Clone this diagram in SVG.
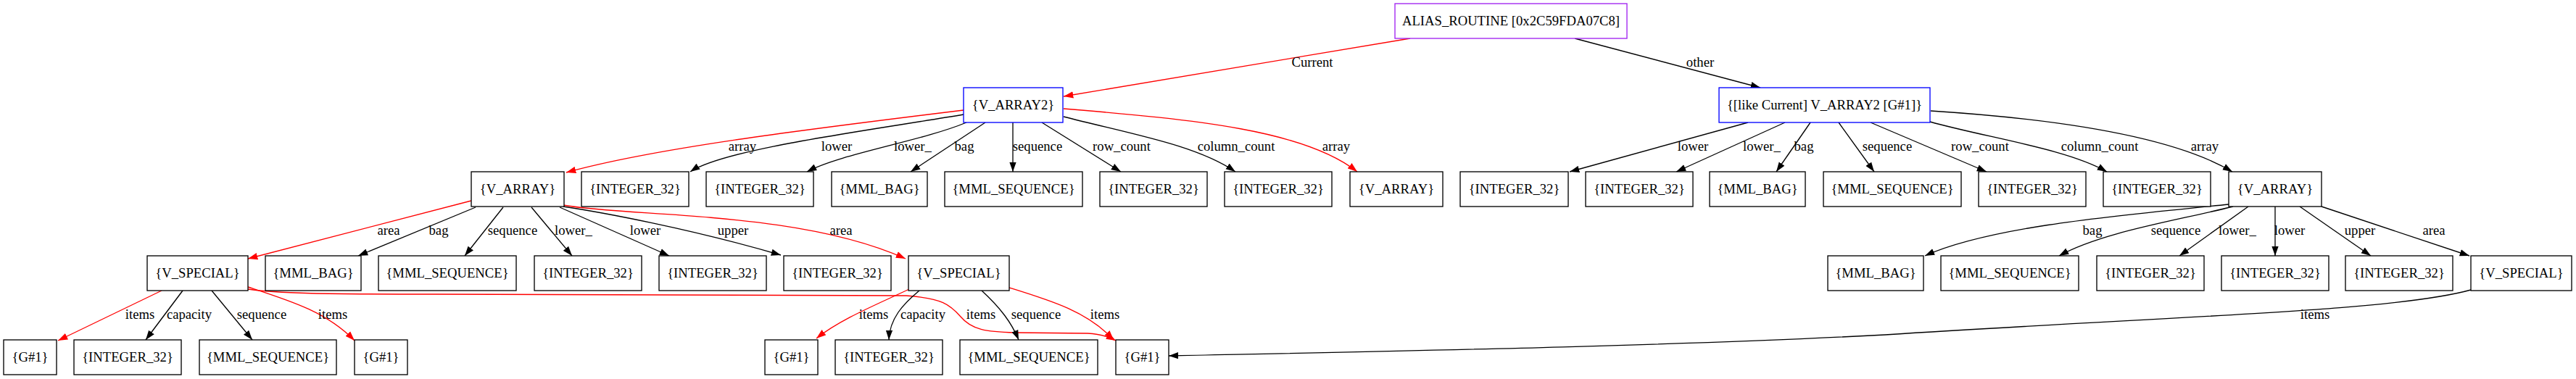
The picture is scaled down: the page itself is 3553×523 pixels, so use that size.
<svg xmlns="http://www.w3.org/2000/svg" width="3553" height="523" viewBox="0 0 3553 523">
<style>
text{font-family:"Liberation Serif","Times New Roman",serif;font-size:18.67px;fill:#000}
.n text{text-anchor:middle}
.n rect{fill:#fff;stroke:#000;stroke-width:1.33}
.n rect.p{stroke:#a020f0}
.n rect.b{stroke:#0000ff}
.e path{fill:none;stroke:#000;stroke-width:1.33;marker-end:url(#ab)}
.e path.r{stroke:#ff0000;marker-end:url(#ar)}
.l text{text-anchor:middle}
</style>
<defs>
<marker id="ab" markerUnits="userSpaceOnUse" viewBox="0 -5 14 10" refX="13.3" refY="0" markerWidth="14" markerHeight="10" orient="auto"><path d="M0,-4.7L13.3,0L0,4.7z" fill="#000"/></marker>
<marker id="ar" markerUnits="userSpaceOnUse" viewBox="0 -5 14 10" refX="13.3" refY="0" markerWidth="14" markerHeight="10" orient="auto"><path d="M0,-4.7L13.3,0L0,4.7z" fill="#ff0000"/></marker>
</defs>
<rect width="3553" height="523" fill="#fff"/>
<g class="e" id="edges">
<path class="r" d="M1945,53L1467,133"/>
<path d="M2172,53L2428,121"/>
<path class="r" d="M1329,152C1100,180 900,205 781,238"/>
<path d="M1329,158C1200,180 1000,205 952,237"/>
<path d="M1333,169C1270,195 1160,212 1113,237"/>
<path d="M1359,169L1256,237"/>
<path d="M1397,169L1397,237"/>
<path d="M1437,169L1546,237"/>
<path d="M1467,161C1560,185 1650,200 1704,237"/>
<path class="r" d="M1467,150C1650,165 1800,180 1872,237"/>
<path d="M2411,169L2165,237"/>
<path d="M2462,169L2312,237"/>
<path d="M2497,169L2450,237"/>
<path d="M2536,169L2585,237"/>
<path d="M2580,169L2740,237"/>
<path d="M2662,168C2740,190 2850,205 2906,237"/>
<path d="M2663,153C2850,165 3000,190 3079,237"/>
<path class="r" d="M650,277L342,357"/>
<path d="M656,286L494,353"/>
<path d="M694,286L641,353"/>
<path d="M733,286L789,353"/>
<path d="M772,286L923,353"/>
<path d="M777,285C830,293 950,315 1077,352"/>
<path class="r" d="M777,283C870,300 1100,290 1249,357"/>
<path d="M3074,282C2950,295 2750,310 2655,353"/>
<path d="M3080,285C3000,305 2900,320 2840,353"/>
<path d="M3101,285L3006,353"/>
<path d="M3138,285L3138,353"/>
<path d="M3172,285L3270,353"/>
<path d="M3202,285L3406,353"/>
<path class="r" d="M223,401L80,470"/>
<path d="M252,401L201,469"/>
<path d="M292,401L348,469"/>
<path class="r" d="M342,396C400,415 450,430 489,470"/>
<path class="r" d="M342,399C380,405 450,406 600,406L1250,408C1300,412 1310,420 1325,437C1340,455 1360,458 1400,459L1500,460C1520,461 1530,465 1539,470"/>
<path class="r" d="M1254,399C1210,420 1160,440 1126,467"/>
<path d="M1268,401C1245,420 1227,440 1226,469"/>
<path d="M1354,401C1380,425 1395,445 1405,469"/>
<path class="r" d="M1392,397C1450,415 1500,430 1536,469"/>
<path d="M3408,400C3300,430 3000,436 2600,462C2300,478 1900,485 1612,491"/>
</g>
<g class="l" id="edge-labels">
<text x="1810" y="92">Current</text>
<text x="2345" y="92">other</text>
<text x="1024" y="208">array</text>
<text x="1154" y="208">lower</text>
<text x="1259" y="208">lower_</text>
<text x="1330" y="208">bag</text>
<text x="1431" y="208">sequence</text>
<text x="1547" y="208">row_count</text>
<text x="1705" y="208">column_count</text>
<text x="1843" y="208">array</text>
<text x="2335" y="208">lower</text>
<text x="2430" y="208">lower_</text>
<text x="2488" y="208">bag</text>
<text x="2603" y="208">sequence</text>
<text x="2731" y="208">row_count</text>
<text x="2896" y="208">column_count</text>
<text x="3041" y="208">array</text>
<text x="536" y="324">area</text>
<text x="605" y="324">bag</text>
<text x="707" y="324">sequence</text>
<text x="791" y="324">lower_</text>
<text x="890" y="324">lower</text>
<text x="1011" y="324">upper</text>
<text x="1160" y="324">area</text>
<text x="2886" y="324">bag</text>
<text x="3001" y="324">sequence</text>
<text x="3086" y="324">lower_</text>
<text x="3158" y="324">lower</text>
<text x="3255" y="324">upper</text>
<text x="3357" y="324">area</text>
<text x="193" y="440">items</text>
<text x="261" y="440">capacity</text>
<text x="361" y="440">sequence</text>
<text x="459" y="440">items</text>
<text x="1205" y="440">items</text>
<text x="1273" y="440">capacity</text>
<text x="1353" y="440">items</text>
<text x="1429" y="440">sequence</text>
<text x="1524" y="440">items</text>
<text x="3193" y="440">items</text>
</g>
<g class="n" id="n_alias"><rect class="p" x="1924" y="5" width="320" height="48"/><text x="2084" y="35">ALIAS_ROUTINE [0x2C59FDA07C8]</text></g>
<g class="n" id="n_varray2"><rect class="b" x="1329" y="121" width="137" height="48"/><text x="1397.5" y="151">{V_ARRAY2}</text></g>
<g class="n" id="n_like"><rect class="b" x="2371" y="121" width="291" height="48"/><text x="2516.5" y="151">{[like Current] V_ARRAY2 [G#1]}</text></g>
<g class="n" id="n_va_a"><rect x="650" y="237" width="128" height="48"/><text x="714" y="267">{V_ARRAY}</text></g>
<g class="n" id="n_int_a1"><rect x="802" y="237" width="148" height="48"/><text x="876" y="267">{INTEGER_32}</text></g>
<g class="n" id="n_int_a2"><rect x="974" y="237" width="148" height="48"/><text x="1048" y="267">{INTEGER_32}</text></g>
<g class="n" id="n_bag_a"><rect x="1147" y="237" width="132" height="48"/><text x="1213" y="267">{MML_BAG}</text></g>
<g class="n" id="n_seq_a"><rect x="1303" y="237" width="190" height="48"/><text x="1398" y="267">{MML_SEQUENCE}</text></g>
<g class="n" id="n_int_a3"><rect x="1517" y="237" width="148" height="48"/><text x="1591" y="267">{INTEGER_32}</text></g>
<g class="n" id="n_int_a4"><rect x="1689" y="237" width="148" height="48"/><text x="1763" y="267">{INTEGER_32}</text></g>
<g class="n" id="n_va_b"><rect x="1862" y="237" width="128" height="48"/><text x="1926" y="267">{V_ARRAY}</text></g>
<g class="n" id="n_int_b1"><rect x="2014" y="237" width="149" height="48"/><text x="2088.5" y="267">{INTEGER_32}</text></g>
<g class="n" id="n_int_b2"><rect x="2187" y="237" width="148" height="48"/><text x="2261" y="267">{INTEGER_32}</text></g>
<g class="n" id="n_bag_b"><rect x="2358" y="237" width="132" height="48"/><text x="2424" y="267">{MML_BAG}</text></g>
<g class="n" id="n_seq_b"><rect x="2515" y="237" width="190" height="48"/><text x="2610" y="267">{MML_SEQUENCE}</text></g>
<g class="n" id="n_int_b3"><rect x="2729" y="237" width="148" height="48"/><text x="2803" y="267">{INTEGER_32}</text></g>
<g class="n" id="n_int_b4"><rect x="2901" y="237" width="148" height="48"/><text x="2975" y="267">{INTEGER_32}</text></g>
<g class="n" id="n_va_c"><rect x="3074" y="237" width="128" height="48"/><text x="3138" y="267">{V_ARRAY}</text></g>
<g class="n" id="n_vs_a"><rect x="203" y="353" width="139" height="48"/><text x="272.5" y="383">{V_SPECIAL}</text></g>
<g class="n" id="n_bag_c"><rect x="366" y="353" width="132" height="48"/><text x="432" y="383">{MML_BAG}</text></g>
<g class="n" id="n_seq_c"><rect x="522" y="353" width="190" height="48"/><text x="617" y="383">{MML_SEQUENCE}</text></g>
<g class="n" id="n_int_c1"><rect x="737" y="353" width="148" height="48"/><text x="811" y="383">{INTEGER_32}</text></g>
<g class="n" id="n_int_c2"><rect x="909" y="353" width="148" height="48"/><text x="983" y="383">{INTEGER_32}</text></g>
<g class="n" id="n_int_c3"><rect x="1081" y="353" width="148" height="48"/><text x="1155" y="383">{INTEGER_32}</text></g>
<g class="n" id="n_vs_b"><rect x="1253" y="353" width="139" height="48"/><text x="1322.5" y="383">{V_SPECIAL}</text></g>
<g class="n" id="n_bag_d"><rect x="2521" y="353" width="132" height="48"/><text x="2587" y="383">{MML_BAG}</text></g>
<g class="n" id="n_seq_d"><rect x="2677" y="353" width="190" height="48"/><text x="2772" y="383">{MML_SEQUENCE}</text></g>
<g class="n" id="n_int_d1"><rect x="2892" y="353" width="148" height="48"/><text x="2966" y="383">{INTEGER_32}</text></g>
<g class="n" id="n_int_d2"><rect x="3064" y="353" width="148" height="48"/><text x="3138" y="383">{INTEGER_32}</text></g>
<g class="n" id="n_int_d3"><rect x="3235" y="353" width="148" height="48"/><text x="3309" y="383">{INTEGER_32}</text></g>
<g class="n" id="n_vs_c"><rect x="3408" y="353" width="139" height="48"/><text x="3477.5" y="383">{V_SPECIAL}</text></g>
<g class="n" id="n_g_a"><rect x="5" y="469" width="73" height="48"/><text x="41.5" y="499">{G#1}</text></g>
<g class="n" id="n_int_e1"><rect x="102" y="469" width="148" height="48"/><text x="176" y="499">{INTEGER_32}</text></g>
<g class="n" id="n_seq_e1"><rect x="275" y="469" width="189" height="48"/><text x="369.5" y="499">{MML_SEQUENCE}</text></g>
<g class="n" id="n_g_b"><rect x="489" y="469" width="73" height="48"/><text x="525.5" y="499">{G#1}</text></g>
<g class="n" id="n_g_c"><rect x="1055" y="469" width="73" height="48"/><text x="1091.5" y="499">{G#1}</text></g>
<g class="n" id="n_int_e2"><rect x="1152" y="469" width="148" height="48"/><text x="1226" y="499">{INTEGER_32}</text></g>
<g class="n" id="n_seq_e2"><rect x="1324" y="469" width="190" height="48"/><text x="1419" y="499">{MML_SEQUENCE}</text></g>
<g class="n" id="n_g_d"><rect x="1539" y="469" width="73" height="48"/><text x="1575.5" y="499">{G#1}</text></g>
</svg>
